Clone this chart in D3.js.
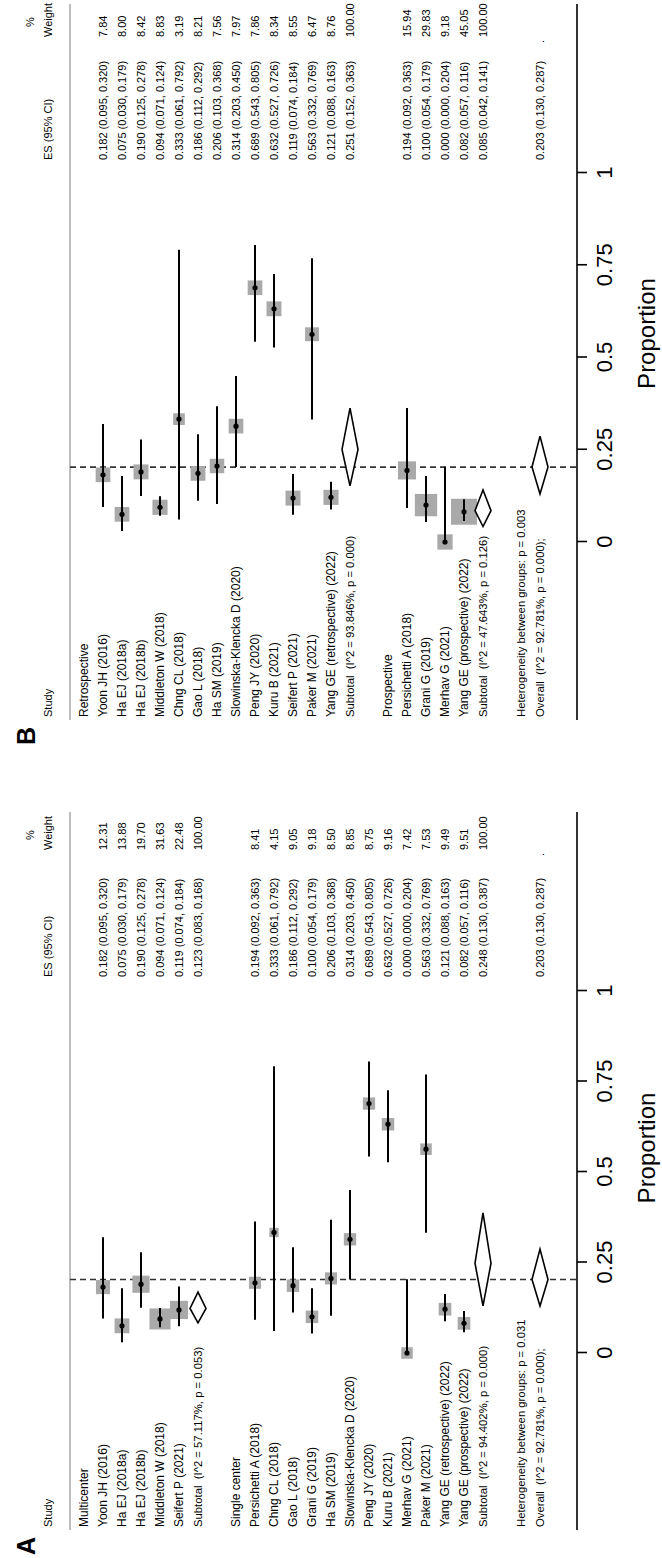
<!DOCTYPE html>
<html>
<head>
<meta charset="utf-8">
<script src="https://cdn.jsdelivr.net/npm/d3@7"></script>
<style>
  body { margin: 0; background: #fff; }
  text { font-family: Arial, "Liberation Sans", sans-serif; fill: #000; }
</style>
</head>
<body>
<svg id="chart"></svg>
<script>
// Forest plots (Stata metaprop style), drawn sideways like the source figure

// ---- Panel A: Multicenter vs Single center ----
const multiStudies = ["Yoon JH (2016)", "Ha EJ (2018a)", "Ha EJ (2018b)", "Middleton W (2018)", "Seifert P (2021)"];
const multiES = [0.182, 0.075, 0.190, 0.094, 0.119];
const multiLo = [0.095, 0.030, 0.125, 0.071, 0.074];
const multiHi = [0.320, 0.179, 0.278, 0.124, 0.184];
const multiW  = [12.31, 13.88, 19.70, 31.63, 22.48];
const multiSub = [0.123, 0.083, 0.168];
const multiSubLabel = "Subtotal  (I^2 = 57.117%, p = 0.053)";

const singleStudies = ["Persichetti A (2018)", "Chng CL (2018)", "Gao L (2018)", "Grani G (2019)", "Ha SM (2019)",
  "Slowinska-Klencka D (2020)", "Peng JY (2020)", "Kuru B (2021)", "Merhav G (2021)", "Paker M (2021)",
  "Yang GE (retrospective) (2022)", "Yang GE (prospective) (2022)"];
const singleES = [0.194, 0.333, 0.186, 0.100, 0.206, 0.314, 0.689, 0.632, 0.000, 0.563, 0.121, 0.082];
const singleLo = [0.092, 0.061, 0.112, 0.054, 0.103, 0.203, 0.543, 0.527, 0.000, 0.332, 0.088, 0.057];
const singleHi = [0.363, 0.792, 0.292, 0.179, 0.368, 0.450, 0.805, 0.726, 0.204, 0.769, 0.163, 0.116];
const singleW  = [8.41, 4.15, 9.05, 9.18, 8.50, 8.85, 8.75, 9.16, 7.42, 7.53, 9.49, 9.51];
const singleSub = [0.248, 0.130, 0.387];
const singleSubLabel = "Subtotal  (I^2 = 94.402%, p = 0.000)";
const hetA = "0.031";

// ---- Panel B: Retrospective vs Prospective ----
const retroStudies = ["Yoon JH (2016)", "Ha EJ (2018a)", "Ha EJ (2018b)", "Middleton W (2018)", "Chng CL (2018)",
  "Gao L (2018)", "Ha SM (2019)", "Slowinska-Klencka D (2020)", "Peng JY (2020)", "Kuru B (2021)",
  "Seifert P (2021)", "Paker M (2021)", "Yang GE (retrospective) (2022)"];
const retroES = [0.182, 0.075, 0.190, 0.094, 0.333, 0.186, 0.206, 0.314, 0.689, 0.632, 0.119, 0.563, 0.121];
const retroLo = [0.095, 0.030, 0.125, 0.071, 0.061, 0.112, 0.103, 0.203, 0.543, 0.527, 0.074, 0.332, 0.088];
const retroHi = [0.320, 0.179, 0.278, 0.124, 0.792, 0.292, 0.368, 0.450, 0.805, 0.726, 0.184, 0.769, 0.163];
const retroW  = [7.84, 8.00, 8.42, 8.83, 3.19, 8.21, 7.56, 7.97, 7.86, 8.34, 8.55, 6.47, 8.76];
const retroSub = [0.251, 0.152, 0.363];
const retroSubLabel = "Subtotal  (I^2 = 93.846%, p = 0.000)";

const prosStudies = ["Persichetti A (2018)", "Grani G (2019)", "Merhav G (2021)", "Yang GE (prospective) (2022)"];
const prosES = [0.194, 0.100, 0.000, 0.082];
const prosLo = [0.092, 0.054, 0.000, 0.057];
const prosHi = [0.363, 0.179, 0.204, 0.116];
const prosW  = [15.94, 29.83, 9.18, 45.05];
const prosSub = [0.085, 0.042, 0.141];
const prosSubLabel = "Subtotal  (I^2 = 47.643%, p = 0.126)";
const hetB = "0.003";

// Shared overall estimate
const overallES = [0.203, 0.130, 0.287];
const overallLabel = "Overall  (I^2 = 92.781%, p = 0.000);";
const ticks = [0, 0.25, 0.5, 0.75, 1];

const fmtES = d3.format(".3f");
const fmtW = d3.format(".2f");

function buildRows(groups, het) {
  const rows = [];
  groups.forEach(g => {
    rows.push({ type: "group", label: g.name });
    g.studies.forEach((s, i) => rows.push({
      type: "study", label: s, es: g.es[i], lo: g.lo[i], hi: g.hi[i], w: g.w[i]
    }));
    rows.push({ type: "sub", label: g.subLabel, es: g.sub[0], lo: g.sub[1], hi: g.sub[2], w: 100 });
    rows.push({ type: "blank" });
  });
  rows.push({ type: "het", label: "Heterogeneity between groups: p = " + het });
  rows.push({ type: "overall", label: overallLabel, es: overallES[0], lo: overallES[1], hi: overallES[2], w: null });
  return rows;
}

const rowsA = buildRows([
  { name: "Multicenter", studies: multiStudies, es: multiES, lo: multiLo, hi: multiHi, w: multiW, sub: multiSub, subLabel: multiSubLabel },
  { name: "Single center", studies: singleStudies, es: singleES, lo: singleLo, hi: singleHi, w: singleW, sub: singleSub, subLabel: singleSubLabel }
], hetA);

const rowsB = buildRows([
  { name: "Retrospective", studies: retroStudies, es: retroES, lo: retroLo, hi: retroHi, w: retroW, sub: retroSub, subLabel: retroSubLabel },
  { name: "Prospective", studies: prosStudies, es: prosES, lo: prosLo, hi: prosHi, w: prosW, sub: prosSub, subLabel: prosSubLabel }
], hetB);

const W = 662, H = 1558;
const svg = d3.select("#chart").attr("width", W).attr("height", H);

// layout in the un-rotated frame: x runs along the proportion axis, y down the rows
const rowY0 = 84, rowStep = 19;
const headerY = 48, lineY = 70, axisY = 577;

const panels = [
  { letter: "A", base: 1530, x0: 177, x1: 539, esX: 553, wX: 680, top: 718, sqK: 3.3, sqMin: 2.5, rows: rowsA },
  { letter: "B", base: 720,  x0: 178, x1: 547, esX: 560, wX: 683, top: 716, sqK: 2.9, sqMin: 6.5, rows: rowsB }
];

panels.forEach(p => {
  const g = svg.append("g").attr("transform", `translate(0,${p.base}) rotate(-90)`);
  const x = d3.scaleLinear().domain([0, 1]).range([p.x0, p.x1]);
  const rowY = i => rowY0 + i * rowStep;

  // panel letter
  g.append("text")
    .attr("x", -16).attr("y", 35)
    .attr("text-anchor", "middle")
    .attr("font-size", "25px").attr("font-weight", "bold")
    .text(p.letter);

  // headers
  g.append("text").attr("x", 3).attr("y", headerY).attr("dy", "0.35em")
    .attr("font-size", "11px").text("Study");
  g.append("text").attr("x", p.esX).attr("y", headerY).attr("dy", "0.35em")
    .attr("font-size", "11px").text("ES (95% CI)");
  g.append("text").attr("x", p.wX).attr("y", headerY).attr("dy", "0.35em")
    .attr("font-size", "11px").text("Weight");
  g.append("text").attr("x", p.wX + 15).attr("y", 30).attr("dy", "0.35em")
    .attr("text-anchor", "middle").attr("font-size", "11px").text("%");

  // gray header rule
  g.append("line")
    .attr("x1", 0).attr("x2", p.top)
    .attr("y1", lineY).attr("y2", lineY)
    .attr("stroke", "#a8a8a8").attr("stroke-width", 1.5);

  // overall reference line
  g.append("line")
    .attr("x1", x(overallES[0])).attr("x2", x(overallES[0]))
    .attr("y1", lineY).attr("y2", axisY)
    .attr("stroke", "#333").attr("stroke-width", 1.6)
    .attr("stroke-dasharray", "6,4");

  const rows = p.rows.map((r, i) => Object.assign({ y: rowY(i) }, r));

  // row labels (summary lines run a little tighter in the source)
  g.append("g").selectAll("text")
    .data(rows.filter(r => r.label))
    .join("text")
    .attr("x", 3).attr("y", d => d.y).attr("dy", "0.35em")
    .attr("font-size", d => (d.type === "study" || d.type === "group") ? "12px" : "11.3px")
    .style("white-space", "pre")
    .text(d => d.label);

  // ES and weight columns
  const numRows = rows.filter(r => r.es !== undefined);
  g.append("g").selectAll("text")
    .data(numRows)
    .join("text")
    .attr("x", p.esX).attr("y", d => d.y).attr("dy", "0.35em")
    .attr("font-size", "11px")
    .text(d => `${fmtES(d.es)} (${fmtES(d.lo)}, ${fmtES(d.hi)})`);
  g.append("g").selectAll("text")
    .data(numRows)
    .join("text")
    .attr("x", d => d.w === null ? p.wX - 6 : p.wX).attr("y", d => d.y).attr("dy", "0.35em")
    .attr("font-size", "11px")
    .text(d => d.w === null ? "." : fmtW(d.w));

  // study boxes, CIs and points
  const studies = rows.filter(r => r.type === "study");
  const side = w => p.sqMin + p.sqK * Math.sqrt(w);
  g.append("g").selectAll("rect")
    .data(studies)
    .join("rect")
    .attr("x", d => x(d.es) - side(d.w) / 2)
    .attr("y", d => d.y - side(d.w) / 2)
    .attr("width", d => side(d.w))
    .attr("height", d => side(d.w))
    .attr("fill", "#a9a9a9");
  g.append("g").selectAll("line")
    .data(studies)
    .join("line")
    .attr("x1", d => x(d.lo)).attr("x2", d => x(d.hi))
    .attr("y1", d => d.y).attr("y2", d => d.y)
    .attr("stroke", "#000").attr("stroke-width", 2);
  g.append("g").selectAll("circle")
    .data(studies)
    .join("circle")
    .attr("cx", d => x(d.es)).attr("cy", d => d.y)
    .attr("r", 2.6).attr("fill", "#000");

  // pooled diamonds
  const pooled = rows.filter(r => r.type === "sub" || r.type === "overall");
  g.append("g").selectAll("path")
    .data(pooled)
    .join("path")
    .attr("d", d => `M${x(d.lo)},${d.y}L${x(d.es)},${d.y - 8}L${x(d.hi)},${d.y}L${x(d.es)},${d.y + 8}Z`)
    .attr("fill", "#fff").attr("stroke", "#000").attr("stroke-width", 1.6);

  // axis
  g.append("line")
    .attr("x1", 0).attr("x2", p.top)
    .attr("y1", axisY).attr("y2", axisY)
    .attr("stroke", "#000").attr("stroke-width", 1.6);
  const axis = g.append("g")
    .attr("transform", `translate(0,${axisY})`)
    .call(d3.axisBottom(x).tickValues(ticks).tickFormat(d3.format("")).tickSize(10).tickSizeOuter(0).tickPadding(9));
  axis.select(".domain").remove();
  axis.selectAll(".tick line").attr("stroke", "#000").attr("stroke-width", 1.6);
  axis.selectAll(".tick text").attr("font-size", "22px").attr("fill", "#000")
    .attr("font-family", "Arial, 'Liberation Sans', sans-serif");

  g.append("text")
    .attr("x", x(0.5) + 24).attr("y", 655)
    .attr("text-anchor", "middle")
    .attr("font-size", "24px")
    .text("Proportion");
});
</script>
</body>
</html>
